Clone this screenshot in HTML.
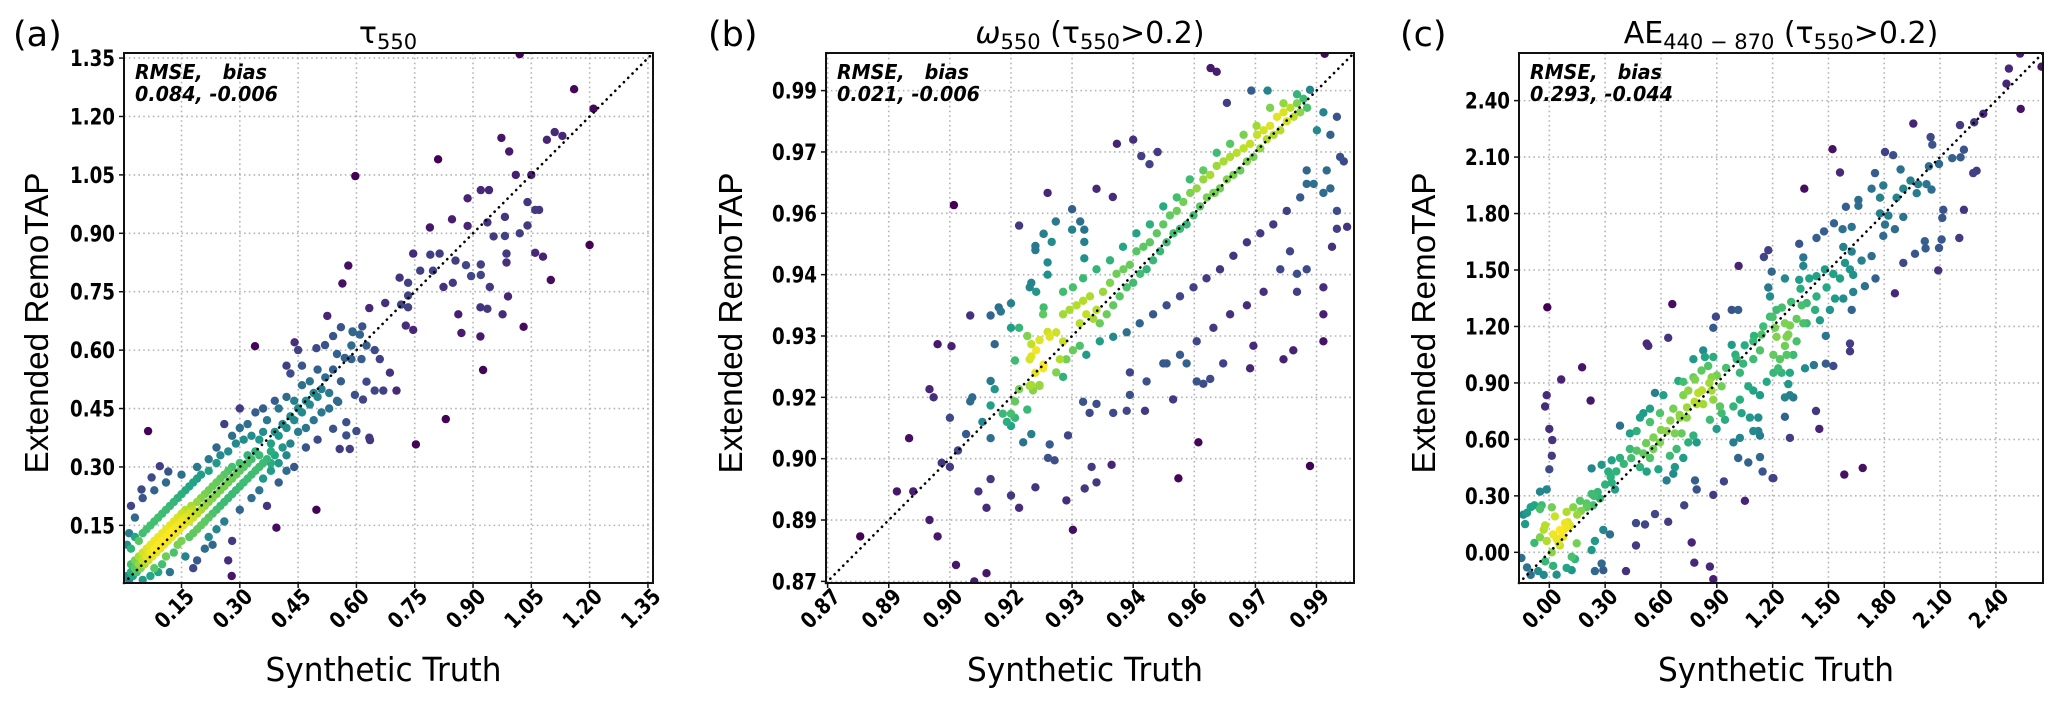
<!DOCTYPE html>
<html><head><meta charset="utf-8"><style>
html,body{margin:0;padding:0;background:#fff;}
svg{display:block;}
</style></head><body>
<svg id="fig" xmlns="http://www.w3.org/2000/svg" width="2067" height="701" viewBox="0 0 2067 701">
<rect x="0" y="0" width="2067" height="701" fill="#fff"/>
<text x="13" y="46" font-family="DejaVu Sans, sans-serif" font-size="35">(a)</text>
<text x="708" y="46" font-family="DejaVu Sans, sans-serif" font-size="35">(b)</text>
<text x="1400" y="46" font-family="DejaVu Sans, sans-serif" font-size="35">(c)</text>
<text x="388" y="43" text-anchor="middle" font-family="DejaVu Sans, sans-serif" font-size="30">τ<tspan font-size="21" dy="6">550</tspan></text>
<text x="1090" y="43" text-anchor="middle" font-family="DejaVu Sans, sans-serif" font-size="30"><tspan font-style="italic">ω</tspan><tspan font-size="21" dy="6">550</tspan><tspan dy="-6"> (τ</tspan><tspan font-size="21" dy="6">550</tspan><tspan dy="-6">&gt;0.2)</tspan></text>
<text x="1781" y="43" text-anchor="middle" font-family="DejaVu Sans, sans-serif" font-size="30">AE<tspan font-size="21" dy="6">440 − 870</tspan><tspan dy="-6"> (τ</tspan><tspan font-size="21" dy="6">550</tspan><tspan dy="-6">&gt;0.2)</tspan></text>
<g id="panels"></g>
</svg>
<script>
// ---------- data ----------
const ticksA = [0.15,0.30,0.45,0.60,0.75,0.90,1.05,1.20,1.35];
const tickLabelsA = ["0.15","0.30","0.45","0.60","0.75","0.90","1.05","1.20","1.35"];
const ticksB = [0.87,0.885,0.90,0.915,0.93,0.945,0.96,0.975,0.99];
const tickLabelsB = ["0.87","0.89","0.90","0.92","0.93","0.94","0.96","0.97","0.99"];
const ticksC = [0.00,0.30,0.60,0.90,1.20,1.50,1.80,2.10,2.40];
const tickLabelsC = ["0.00","0.30","0.60","0.90","1.20","1.50","1.80","2.10","2.40"];
const statsA = ["RMSE,   bias","0.084, -0.006"];
const statsB = ["RMSE,   bias","0.021, -0.006"];
const statsC = ["RMSE,   bias","0.293, -0.044"];

const pointsA = [
[0.01,0.02],[0.015,0.01],[0.02,0.03],[0.02,0.05],[0.025,0.02],[0.03,0.04],[0.03,0.06],[0.035,0.03],[0.04,0.05],[0.04,0.07],[0.045,0.04],[0.05,0.06],[0.05,0.08],[0.055,0.05],[0.06,0.07],[0.06,0.09],[0.065,0.06],[0.07,0.08],[0.07,0.10],[0.075,0.07],[0.08,0.09],[0.08,0.11],[0.085,0.08],[0.09,0.10],[0.09,0.12],[0.095,0.09],[0.10,0.11],[0.10,0.13],[0.105,0.10],[0.11,0.12],[0.11,0.14],[0.115,0.11],[0.12,0.13],[0.12,0.15],[0.125,0.12],[0.13,0.14],[0.13,0.16],[0.135,0.13],[0.14,0.15],[0.14,0.17],[0.145,0.14],[0.15,0.16],[0.15,0.18],[0.155,0.15],[0.16,0.17],[0.16,0.19],[0.17,0.16],[0.17,0.18],[0.175,0.20],[0.18,0.17],[0.18,0.19],[0.19,0.18],[0.19,0.21],[0.20,0.19],[0.20,0.22],[0.21,0.20],[0.21,0.23],[0.22,0.21],[0.22,0.24],[0.23,0.22],[0.23,0.25],[0.24,0.23],[0.24,0.26],[0.25,0.24],[0.25,0.27],[0.26,0.25],[0.26,0.28],[0.27,0.26],[0.27,0.29],[0.28,0.27],[0.28,0.30],[0.29,0.28],[0.30,0.29],[0.30,0.31],[0.31,0.30],[0.32,0.31],[0.32,0.33],[0.33,0.32],[0.34,0.34],[0.35,0.33],
[0.02,0.09],[0.03,0.12],[0.01,0.10],[0.015,0.13],[0.04,0.11],[0.05,0.13],[0.06,0.14],[0.07,0.15],[0.08,0.16],[0.09,0.17],[0.10,0.18],[0.11,0.19],[0.12,0.20],[0.13,0.21],[0.14,0.22],[0.15,0.23],[0.16,0.24],[0.17,0.25],[0.18,0.26],[0.19,0.27],[0.20,0.28],[0.22,0.29],[0.24,0.31],[0.25,0.33],[0.27,0.34],[0.29,0.36],[0.31,0.37],[0.33,0.38],[0.35,0.37],[0.36,0.39],
[0.05,0.01],[0.07,0.02],[0.08,0.04],[0.10,0.05],[0.11,0.07],[0.13,0.08],[0.14,0.10],[0.15,0.11],[0.17,0.12],[0.18,0.13],[0.19,0.14],[0.20,0.15],[0.21,0.16],[0.22,0.17],[0.23,0.18],[0.24,0.19],[0.25,0.20],[0.26,0.21],[0.27,0.22],[0.28,0.23],[0.29,0.24],[0.30,0.25],[0.31,0.26],[0.32,0.27],[0.33,0.28],[0.34,0.29],[0.35,0.30],[0.36,0.31],[0.37,0.32],[0.38,0.34],[0.39,0.33],[0.40,0.31],[0.38,0.29],[0.36,0.27],
[0.09,0.03],[0.12,0.03],[0.16,0.07],[0.18,0.04],[0.21,0.09],[0.22,0.12],[0.24,0.14],[0.26,0.16],[0.28,0.11],[0.30,0.19],[0.33,0.22],[0.35,0.24],[0.37,0.20],[0.40,0.26],[0.42,0.29],[0.27,0.06],[0.23,0.10],[0.19,0.06],
[0.03,0.17],[0.02,0.20],[0.05,0.22],[0.08,0.24],[0.11,0.26],[0.15,0.28],[0.19,0.30],[0.22,0.32],[0.24,0.35],[0.28,0.38],[0.30,0.40],[0.32,0.41],[0.26,0.41],[0.30,0.45],[0.34,0.44],
[0.38,0.36],[0.39,0.39],[0.40,0.38],[0.41,0.41],[0.42,0.40],[0.43,0.43],[0.44,0.42],[0.45,0.45],[0.46,0.44],[0.47,0.47],[0.48,0.46],[0.49,0.49],[0.50,0.48],[0.51,0.50],[0.52,0.53],[0.53,0.49],[0.37,0.42],[0.40,0.45],[0.42,0.48],[0.44,0.47],[0.46,0.51],[0.48,0.52],[0.50,0.55],[0.41,0.35],[0.43,0.36],[0.45,0.39],[0.47,0.40],[0.49,0.42],[0.51,0.44],[0.53,0.45],[0.55,0.47],[0.38,0.31],[0.42,0.33],[0.44,0.30],[0.47,0.35],[0.50,0.37],[0.39,0.47],[0.36,0.45],[0.43,0.54],[0.46,0.56],[0.54,0.55],[0.56,0.52],[0.57,0.58],[0.55,0.59],[0.45,0.60],[0.42,0.56],
[0.973,1.145],[0.993,1.11],[0.81,1.09],[0.597,1.047],[0.886,0.99],[0.92,1.011],[0.941,1.011],[0.846,0.936],[0.789,0.915],[0.886,0.919],[0.937,0.928],[0.982,0.942],[0.982,0.893],[0.953,0.892],[0.746,0.848],[0.79,0.845],[0.814,0.848],[0.579,0.817],[0.764,0.804],[0.797,0.804],[0.855,0.83],[0.882,0.818],[0.92,0.82],[0.92,0.793],[0.986,0.848],[0.986,0.825],[0.711,0.786],[0.733,0.773],[0.733,0.74],[0.564,0.771],[0.848,0.773],[0.824,0.762],[0.895,0.79],[0.943,0.762],[0.99,0.738],[0.976,0.692],[0.862,0.692],[0.87,0.644],[0.919,0.71],[0.937,0.706],[0.919,0.635],[0.926,0.549],[0.715,0.717],[0.733,0.71],[0.727,0.663],[0.746,0.652],[0.674,0.721],[0.633,0.708],[0.525,0.688],[0.56,0.659],[0.59,0.648],[0.615,0.661],[0.441,0.62],[0.497,0.605],[0.519,0.613],[0.54,0.636],[0.339,0.61],
[0.591,0.646],[0.609,0.64],[0.587,0.612],[0.626,0.612],[0.647,0.6],[0.587,0.577],[0.613,0.577],[0.66,0.577],[0.686,0.542],[0.703,0.496],[0.669,0.496],[0.647,0.496],[0.626,0.519],[0.596,0.485],[0.617,0.473],[0.553,0.467],[0.574,0.415],[0.54,0.398],[0.557,0.346],[0.583,0.346],[0.574,0.381],[0.6,0.392],[0.83,0.423],[0.753,0.358],[0.633,0.375],[0.635,0.369],[0.497,0.19],[0.394,0.144],[0.279,0.02],[0.064,0.392],[0.094,0.302],[0.116,0.288],[0.073,0.273],[0.047,0.242],
[1.02,1.36],[1.09,1.14],[1.11,1.16],[1.13,1.15],[1.16,1.27],[1.21,1.22],[1.20,0.87],[1.05,1.05],[1.04,0.98],[1.06,0.96],[1.07,0.96],[1.06,0.85],[1.08,0.84],[1.10,0.78],[1.03,0.66],[1.02,0.9],[1.04,0.92],[1.01,1.05]
];

const pointsB = [
[0.878,0.881],[0.887,0.892],[0.891,0.892],[0.890,0.905],[0.895,0.917],[0.896,0.915],[0.897,0.928],[0.9004,0.9275],[0.901,0.962],[0.897,0.881],[0.895,0.885],[0.898,0.899],[0.900,0.898],[0.900,0.910],[0.9015,0.874],[0.906,0.870],[0.902,0.902],[0.904,0.906],[0.905,0.914],[0.9055,0.915],[0.905,0.935],[0.910,0.935],[0.907,0.892],[0.909,0.888],[0.910,0.895],[0.909,0.872],[0.915,0.891],[0.917,0.888],[0.921,0.893],[0.910,0.919],[0.911,0.917],[0.910,0.913],[0.910,0.905],[0.908,0.909],[0.911,0.928],[0.912,0.937],[0.9125,0.936],[0.915,0.938],[0.915,0.932],[0.917,0.932],
[0.913,0.911],[0.915,0.911],[0.914,0.909],[0.915,0.908],[0.916,0.910],[0.916,0.914],[0.917,0.917],[0.916,0.924],[0.919,0.912],[0.920,0.906],[0.918,0.904],[0.920,0.928],[0.921,0.921],[0.922,0.918],[0.920,0.918],[0.923,0.937],[0.920,0.943],[0.924,0.945],[0.921,0.951],[0.923,0.955],[0.917,0.957],[0.924,0.965],[0.919,0.930],[0.922,0.929],[0.924,0.931],[0.920,0.925],[0.923,0.923],
[0.9655,0.9946],[0.964,0.9955],[0.992,0.999],[0.974,0.990],[0.978,0.990],[0.968,0.987],[0.941,0.977],[0.945,0.978],[0.947,0.974],[0.949,0.972],[0.951,0.975],[0.965,0.965],[0.936,0.966],[0.940,0.964],[0.932,0.958],[0.926,0.958],[0.925,0.953],[0.921,0.952],[0.923,0.955],[0.924,0.948],[0.930,0.961],[0.930,0.956],[0.933,0.956],[0.933,0.953],[0.933,0.949],
[0.9278,0.9353],[0.9294,0.9364],[0.9311,0.9375],[0.9327,0.9386],[0.9344,0.9397],[0.9360,0.9364],[0.9376,0.9408],[0.9393,0.9430],[0.9409,0.9452],[0.9426,0.9463],[0.9442,0.9474],[0.9458,0.9507],[0.9475,0.9518],[0.9491,0.9529],[0.9508,0.9551],[0.9524,0.9573],[0.9540,0.9595],[0.9557,0.9606],[0.9573,0.9628],[0.9590,0.9650],[0.9606,0.9661],[0.9622,0.9683],[0.9639,0.9694],[0.9655,0.9716],[0.9672,0.9727],[0.9688,0.9738],[0.9704,0.9748],[0.9721,0.9759],[0.9737,0.9770],[0.9754,0.9792],[0.9770,0.9803],[0.9786,0.9814],[0.9803,0.9836],[0.9819,0.9847],[0.9836,0.9858],[0.9852,0.9869],[0.9868,0.9880],
[0.9319,0.9331],[0.9335,0.9353],[0.9352,0.9342],[0.9368,0.9331],[0.9385,0.9353],[0.9401,0.9375],[0.9417,0.9397],[0.9434,0.9419],[0.9450,0.9430],[0.9467,0.9452],[0.9483,0.9463],[0.9499,0.9485],[0.9516,0.9507],[0.9532,0.9529],[0.9549,0.9551],[0.9565,0.9562],[0.9581,0.9573],[0.9598,0.9595],[0.9614,0.9617],[0.9631,0.9639],[0.9647,0.9650],[0.9663,0.9661],[0.9680,0.9683],[0.9696,0.9694],[0.9713,0.9705],[0.9729,0.9727],[0.9745,0.9738],[0.9762,0.9759],[0.9778,0.9781],[0.9795,0.9792],[0.9811,0.9803],[0.9827,0.9825],[0.9844,0.9836],[0.9860,0.9847],[0.9877,0.9858],
[0.9278,0.9408],[0.9302,0.9419],[0.9327,0.9441],[0.9360,0.9463],[0.9393,0.9485],[0.9425,0.9518],[0.9458,0.9551],[0.9491,0.9573],[0.9524,0.9617],[0.9557,0.9639],[0.9589,0.9683],[0.9622,0.9705],[0.9655,0.9748],[0.9688,0.9770],[0.9721,0.9792],[0.9753,0.9814],[0.9786,0.9858],[0.9819,0.9869],[0.9852,0.9891],[0.9884,0.9902],
[0.9270,0.9243],[0.9302,0.9265],[0.9335,0.9254],[0.9368,0.9287],[0.9401,0.9298],[0.9434,0.9309],[0.9466,0.9331],[0.9499,0.9353],[0.9532,0.9375],[0.9565,0.9397],[0.9598,0.9419],[0.9630,0.9441],[0.9663,0.9463],[0.9696,0.9496],[0.9729,0.9529],[0.9762,0.9551],[0.9794,0.9573],[0.9827,0.9606],[0.9860,0.9639],[0.9893,0.9672],[0.9925,0.9705],[0.9958,0.9738],[0.9934,0.9792],[0.9950,0.9836],[0.9917,0.9847],[0.9901,0.9803],
[0.9360,0.9134],[0.9401,0.9112],[0.9442,0.9156],[0.9483,0.9189],[0.9524,0.9233],[0.9565,0.9254],[0.9606,0.9287],[0.9647,0.9320],[0.9688,0.9353],[0.9729,0.9375],[0.9770,0.9408],[0.9811,0.9463],[0.9835,0.9507],[0.9852,0.9452],[0.9876,0.9463],[0.9917,0.9419],[0.9950,0.9562],[0.9975,0.9567],[0.9917,0.9353],[0.9938,0.9518],[0.9950,0.9606],[0.9917,0.9650],[0.9876,0.9672],[0.9876,0.9705],[0.9967,0.9727],[0.9934,0.9661],[0.9606,0.9189],[0.9622,0.9183],[0.9671,0.9233],[0.9737,0.9221],[0.9745,0.9276],[0.9819,0.9243],[0.9843,0.9265],[0.9852,0.9408],[0.9917,0.9287],[0.9343,0.9112],[0.9327,0.9139],[0.9442,0.9211],[0.9532,0.9233],[0.9581,0.9233],[0.9548,0.9145],[0.9639,0.9195],[0.9348,0.8980],[0.9397,0.8985],[0.9561,0.8952],[0.9610,0.9040],[0.9884,0.8982],[0.9286,0.8898],[0.9302,0.8826],[0.9331,0.8927],[0.9360,0.8942],[0.9241,0.9002],[0.9257,0.8996],[0.9290,0.9057],[0.9245,0.9035],[0.9434,0.9117],[0.9479,0.9117],
[0.9196,0.9419],[0.9212,0.9408],[0.9196,0.9178],[0.9220,0.9178],[0.9204,0.9167],[0.9229,0.9353],[0.9245,0.9298],[0.9261,0.9309],[0.9278,0.9287],[0.9212,0.9265],[0.9196,0.9243],[0.9229,0.9221],[0.9261,0.9211],[0.9286,0.9243],[0.9319,0.9276],[0.9278,0.9200]
];

const pointsC = [
[2.53,2.65],[2.645,2.58],[2.47,2.57],[2.457,2.49],[2.533,2.356],[2.332,2.33],[2.283,2.285],[2.207,2.27],[1.956,2.278],[2.049,2.206],[2.058,2.166],[2.228,2.139],[2.165,2.094],[2.21,2.099],[2.094,2.063],[2.04,2.051],[2.278,2.015],[2.296,2.027],[1.804,2.127],[1.848,2.11],[1.522,2.142],[1.562,2.018],[1.37,1.932],[1.75,2.015],[1.888,2.034],[1.941,1.975],[1.982,1.956],[2.027,1.956],[2.054,1.927],[1.795,1.949],[1.777,1.884],[1.732,1.932],[1.661,1.872],[1.661,1.841],[1.594,1.836],[2.117,1.82],[2.112,1.777],[2.228,1.82],[1.866,1.884],[1.902,1.932],[1.974,1.908],
[1.777,1.801],[1.822,1.789],[1.902,1.782],[1.804,1.741],[1.857,1.717],[1.795,1.681],[1.53,1.748],[1.625,1.729],[1.576,1.717],[1.476,1.705],[1.436,1.67],[1.343,1.639],[2.018,1.653],[2.108,1.662],[2.022,1.615],[2.203,1.67],[2.094,1.617],[2.09,1.498],[1.965,1.586],[1.902,1.538],[1.857,1.376],[1.58,1.622],[1.625,1.598],[1.589,1.538],[1.616,1.503],[1.633,1.474],[1.678,1.55],[1.732,1.574],[1.753,1.455],[1.696,1.414],
[1.481,1.503],[1.526,1.479],[1.562,1.455],[1.49,1.407],[1.535,1.348],[1.508,1.288],[1.58,1.348],[1.633,1.383],[1.625,1.288],[1.365,1.567],[1.365,1.522],[1.397,1.455],[1.343,1.448],[1.436,1.467],[1.436,1.359],[1.383,1.324],[1.356,1.312],[1.428,1.288],[1.365,1.217],[1.329,1.24],[1.293,1.205],[1.284,1.157],[1.275,1.145],[1.329,1.121],[1.383,1.217],[1.454,1.233],[1.486,1.15],[1.616,1.109],[1.616,1.068],[1.526,0.99],[1.486,1.002],[1.422,0.995],[1.374,0.978],
[1.195,1.491],[1.266,1.455],[1.177,1.407],[1.186,1.359],[1.221,1.288],[1.186,1.252],[1.266,1.217],[1.212,1.193],[1.221,1.145],[1.266,1.097],[1.275,1.049],[1.311,1.049],[1.239,1.026],[1.204,1.049],[1.23,0.978],[1.248,0.954],[1.293,0.954],[1.284,0.894],[1.293,0.835],[1.266,0.823],[1.311,0.823],[1.266,0.72],
[1.141,1.157],[1.096,1.121],[1.132,1.073],[1.096,1.026],[1.042,1.002],[1.007,1.026],[0.98,1.102],[1.024,0.954],[1.069,0.882],[1.096,0.859],[1.132,0.835],[1.168,0.906],[1.204,0.954],[1.123,0.716],
[0.872,0.93],[0.926,0.882],[0.872,0.859],[0.881,0.811],[0.917,0.775],[0.926,0.739],[0.863,0.704],[0.899,0.656],[0.944,0.704],[0.989,0.775],[1.024,0.811],[1.033,0.739],[1.078,0.716],[1.123,0.644],[1.132,0.62],[1.096,0.644],[1.024,0.608],[0.989,0.584],[1.015,0.501],[1.069,0.477],[1.132,0.506],[1.204,0.394],
[0.881,1.193],[0.895,1.252],[0.98,1.288],[1.015,1.288],[0.827,1.073],[0.881,1.038],[0.836,1.038],[0.774,1.026],[0.783,0.918],[0.854,0.99],[0.818,0.966],
[0.693,0.911],[0.72,0.906],[0.774,0.93],[0.747,0.859],[0.8,0.847],[0.827,0.787],[0.792,0.787],[0.72,0.835],[0.613,0.835],[0.568,0.847],[0.541,0.763],[0.505,0.739],[0.487,0.716],[0.541,0.692],[0.595,0.739],[0.666,0.763],[0.702,0.716],[0.738,0.716],[0.675,0.632],[0.711,0.632],[0.747,0.584],[0.792,0.584],[0.774,0.62],
[0.63,0.644],[0.684,0.549],[0.72,0.501],[0.675,0.453],[0.666,0.417],[0.63,0.382],[0.648,0.513],[0.595,0.584],[0.559,0.549],[0.505,0.525],[0.469,0.644],[0.433,0.632],[0.38,0.673],[0.487,0.453],[0.523,0.429],[0.586,0.441],[0.541,0.501],
[0.433,0.549],[0.38,0.501],[0.335,0.489],[0.317,0.429],[0.281,0.465],[0.227,0.446],[0.335,0.37],[0.353,0.334],[0.272,0.286],[0.236,0.25],[0.201,0.239],[0.227,0.31],[0.165,0.274],[0.129,0.239],[0.093,0.215],[0.084,0.155],[0.111,0.143],[0.057,0.119],[0.039,0.072],[0.021,0.095],[0.057,0.036],[0.013,0.0],[-0.014,0.06],[-0.023,-0.048],
[0.013,0.239],[-0.041,0.25],[-0.023,0.143],[0.03,0.191],[0.075,0.083],[0.12,-0.024],[0.138,-0.036],[0.093,-0.083],[0.039,-0.119],[0.021,-0.072],[0.147,0.048],[0.29,0.119],[0.326,0.095],[0.245,0.06],[0.227,0.012],[0.281,-0.06],[0.245,-0.1],[0.29,-0.095],[0.12,-0.095],[-0.05,0.322],
[0.412,-0.1],[0.466,0.155],[0.514,0.148],[0.639,0.162],[0.725,0.25],[0.783,0.382],[0.792,0.334],[0.881,0.305],[0.938,0.377],[1.051,0.274],[0.765,0.052],[0.779,-0.055],[0.863,-0.076],[0.881,-0.143],[0.466,0.036],[0.568,0.203],[0.222,0.806],[0.064,0.918],[0.176,0.983],[-0.011,1.302],[0.661,1.319],[0.523,1.109],[0.532,1.097],[0.639,1.14],[1.017,1.522],[1.177,1.605],[1.153,1.569],[1.585,0.413],[1.684,0.448],[1.433,0.751],[1.451,0.656],[1.293,0.608],[1.2,0.394],[1.146,0.429],[-0.014,0.835],[-0.023,0.775],[0.0,0.656],[0.016,0.596],[0.013,0.513],[0.0,0.441],[-0.014,0.334],
[-0.14,0.2],[-0.12,0.21],[-0.1,0.24],[-0.08,0.25],[-0.05,0.23],[-0.13,0.15],[-0.15,-0.03],[-0.12,-0.08],[-0.1,-0.12],[-0.06,-0.1],[-0.03,-0.12],[-0.08,0.05],[-0.05,0.08],[-0.03,0.12],[0.05,0.05],[0.07,0.1],[0.09,0.13],[0.1,0.16],[0.15,0.2],[0.17,0.22],[0.2,0.26],[0.24,0.3],[0.26,0.32],[0.3,0.36],[0.33,0.4],[0.36,0.43],[0.4,0.47],[0.44,0.5],[0.47,0.54],[0.52,0.58],[0.56,0.61],[0.6,0.65],[0.65,0.7],[0.7,0.73],[0.74,0.77],[0.78,0.8],[0.82,0.86],[0.86,0.9],[0.9,0.94],[0.95,0.98],[1.0,1.05],[1.05,1.1],[1.1,1.15],[1.15,1.2],[1.2,1.25],[1.25,1.3],[1.3,1.33],[1.35,1.4]
];

// ---------- rendering ----------
const NS = "http://www.w3.org/2000/svg";
const root = document.getElementById('panels');
const VIR = [[68,1,84],[72,36,117],[65,68,135],[53,95,141],[42,120,142],[33,145,140],[34,168,132],[68,191,112],[122,209,81],[189,223,38],[253,231,37]];
function viridis(t){t=Math.max(0,Math.min(1,t));const f=t*(VIR.length-1);const i=Math.min(VIR.length-2,Math.floor(f));const u=f-i;const a=VIR[i],b=VIR[i+1];return `rgb(${Math.round(a[0]+(b[0]-a[0])*u)},${Math.round(a[1]+(b[1]-a[1])*u)},${Math.round(a[2]+(b[2]-a[2])*u)})`;}
function mk(tag, attrs, parent){const e=document.createElementNS(NS,tag);for(const k in attrs)e.setAttribute(k,attrs[k]);(parent||root).appendChild(e);return e;}

function panel(id, box, dom, ticks, labels, pts, stats, ylabX, sigma, gamma){
  const sx = v => box.x0 + (v-dom[0])/(dom[1]-dom[0])*(box.x1-box.x0);
  const sy = v => box.y1 - (v-dom[0])/(dom[1]-dom[0])*(box.y1-box.y0);
  const g = mk('g',{});
  
  
  const clipId='clip'+id;
  const cp=mk('clipPath',{id:clipId},g); mk('rect',{x:box.x0,y:box.y0,width:box.x1-box.x0,height:box.y1-box.y0},cp);
  ticks.forEach((t,i)=>{
    const gx=mk('line',{x1:sx(t),x2:sx(t),y1:box.y0,y2:box.y1,stroke:'#b4b4b4','stroke-width':1.6,'stroke-dasharray':'1.6,3.2'},g);
    
    
    const gy=mk('line',{x1:box.x0,x2:box.x1,y1:sy(t),y2:sy(t),stroke:'#b4b4b4','stroke-width':1.6,'stroke-dasharray':'1.6,3.2'},g);
    
    
  });
  const pix = pts.map(p=>[sx(p[0]),sy(p[1])]);
  const dens = pix.map(a=>{let s=0;for(const b of pix){const dx=a[0]-b[0],dy=a[1]-b[1];s+=Math.exp(-(dx*dx+dy*dy)/(2*sigma*sigma));}return s;});
  const mx=Math.max(...dens), mn=Math.min(...dens);
  const order=pix.map((_,i)=>i).sort((i,j)=>dens[i]-dens[j]);
  const pg=mk('g',{'clip-path':`url(#${clipId})`},g);
  
  
  order.forEach(i=>{
    const t=Math.pow((dens[i]-mn)/(mx-mn),gamma);
    const c=mk('circle',{cx:pix[i][0].toFixed(1),cy:pix[i][1].toFixed(1),r:4.2,fill:viridis(t)},pg);
    
    
  });
  const d=mk('line',{x1:sx(dom[0]),y1:sy(dom[0]),x2:sx(dom[1]),y2:sy(dom[1]),stroke:'#000','stroke-width':2.6,'stroke-dasharray':'0.1,6','stroke-linecap':'round'},g);
  
  
  const fr=mk('rect',{x:box.x0,y:box.y0,width:box.x1-box.x0,height:box.y1-box.y0,fill:'none',stroke:'#111','stroke-width':2},g);
  
  
  ticks.forEach((t,i)=>{
    mk('line',{x1:sx(t),x2:sx(t),y1:box.y1,y2:box.y1+5,stroke:'#111','stroke-width':1.5},g);
    mk('line',{x1:box.x0-5,x2:box.x0,y1:sy(t),y2:sy(t),stroke:'#111','stroke-width':1.5},g);
    const yl=mk('text',{x:box.x0-9,y:sy(t)+8,'text-anchor':'end','font-family':'DejaVu Sans, sans-serif','font-weight':'bold','font-size':22,textLength:45,lengthAdjust:'spacingAndGlyphs'},g);
    yl.textContent=labels[i];
    
    
    const xx=sx(t)+14, yy=box.y1+15;
    const xl=mk('text',{x:xx,y:yy,'text-anchor':'end','font-family':'DejaVu Sans, sans-serif','font-weight':'bold','font-size':22,textLength:45,lengthAdjust:'spacingAndGlyphs',transform:`rotate(-45 ${xx} ${yy})`},g);
    xl.textContent=labels[i];
    
    
  });
  const s1=mk('text',{x:box.x0+11,y:box.y0+26,'font-family':'DejaVu Sans, sans-serif','font-weight':'bold','font-style':'italic','font-size':20,textLength:132,lengthAdjust:'spacingAndGlyphs',style:'white-space:pre'},g);
  s1.textContent=stats[0];
  
  
  const s2=mk('text',{x:box.x0+11,y:box.y0+48,'font-family':'DejaVu Sans, sans-serif','font-weight':'bold','font-style':'italic','font-size':20,textLength:143,lengthAdjust:'spacingAndGlyphs'},g);
  s2.textContent=stats[1];
  
  
  const yt=mk('text',{x:ylabX,y:323,'text-anchor':'middle','font-family':'Liberation Sans, sans-serif','font-size':33,textLength:301,lengthAdjust:'spacingAndGlyphs',transform:`rotate(-90 ${ylabX} 323)`},g);
  yt.textContent='Extended RemoTAP';
  
  
  const cx=(box.x0+box.x1)/2-5;
  const xt=mk('text',{x:cx,y:681,'text-anchor':'middle','font-family':'DejaVu Sans, sans-serif','font-size':33,textLength:236,lengthAdjust:'spacingAndGlyphs'},g);
  xt.textContent='Synthetic Truth';
  
  
}

panel('a',{x0:124,x1:653,y0:53,y1:583},[0.002,1.363],ticksA,tickLabelsA,pointsA,statsA,48,14,0.8);
panel('b',{x0:826,x1:1354,y0:53,y1:583},[0.8696,0.9992],ticksB,tickLabelsB,pointsB,statsB,742,22,1.1);
panel('c',{x0:1519,x1:2043,y0:53,y1:583},[-0.163,2.653],ticksC,tickLabelsC,pointsC,statsC,1435,20,0.9);
</script>
</body></html>
